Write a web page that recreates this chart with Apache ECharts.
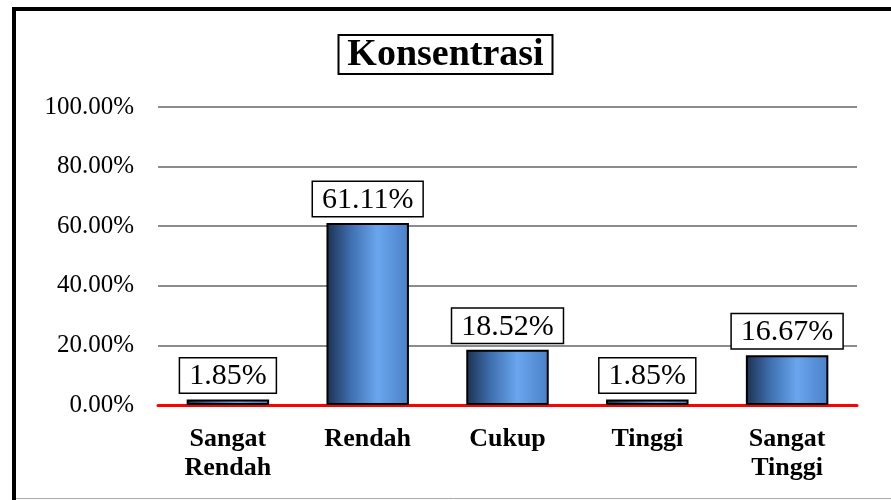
<!DOCTYPE html>
<html>
<head>
<meta charset="utf-8">
<script src="https://cdn.jsdelivr.net/npm/echarts@6/dist/echarts.min.js"></script>
<style>
  html, body { margin: 0; padding: 0; background: #fff; }
  #chart { width: 891px; height: 500px; }
</style>
</head>
<body>
<div id="chart"></div>
<script>
  // data
  const categories = ['Sangat\nRendah', 'Rendah', 'Cukup', 'Tinggi', 'Sangat\nTinggi']
  const values = [1.85, 61.11, 18.52, 1.85, 16.67]
  const titleText = 'Konsentrasi'

  const serif = '"Liberation Serif", "Times New Roman", serif'

  const chart = echarts.init(document.getElementById('chart'))
  chart.setOption({
    backgroundColor: '#fff',
    animation: false,
    title: {
      text: titleText,
      left: 'center',
      top: 35,
      padding: [1, 9, 0, 9],
      borderColor: '#000',
      borderWidth: 2,
      textStyle: {
        fontFamily: serif,
        fontWeight: 'bold',
        fontSize: 38,
        color: '#000'
      }
    },
    graphic: [
      // frame: heavy left/top, light bottom
      { type: 'line', shape: { x1: 14, y1: 7, x2: 14, y2: 500 }, style: { stroke: '#000', lineWidth: 4 } },
      { type: 'line', shape: { x1: 12, y1: 9, x2: 891, y2: 9 }, style: { stroke: '#000', lineWidth: 4 } },
      { type: 'line', shape: { x1: 16, y1: 498.5, x2: 891, y2: 498.5 }, style: { stroke: '#aaa', lineWidth: 1 } }
    ],
    grid: {
      left: 158,
      right: 34,
      top: 107,
      bottom: 95,
      containLabel: false
    },
    xAxis: {
      type: 'category',
      data: categories,
      axisTick: { show: false },
      axisLine: { lineStyle: { color: '#ff0000', width: 3 } },
      axisLabel: {
        margin: 20,
        fontFamily: serif,
        fontWeight: 'bold',
        fontSize: 26,
        lineHeight: 29,
        color: '#000'
      }
    },
    yAxis: {
      type: 'value',
      min: 0,
      max: 100,
      interval: 20,
      axisLine: { show: false },
      axisTick: { show: false },
      splitLine: { lineStyle: { color: '#8c8c8c', width: 2 } },
      axisLabel: {
        margin: 24,
        fontFamily: serif,
        fontSize: 25,
        color: '#000',
        formatter: v => v.toFixed(2) + '%'
      }
    },
    series: [{
      type: 'bar',
      data: values,
      barWidth: '59%',
      itemStyle: {
        borderColor: '#000',
        borderWidth: 2,
        color: new echarts.graphic.LinearGradient(0, 0, 1, 0, [
          { offset: 0, color: '#1c3150' },
          { offset: 0.3, color: '#3f70b0' },
          { offset: 0.62, color: '#6aa6ee' },
          { offset: 1, color: '#4a80c6' }
        ])
      },
      label: {
        show: true,
        position: 'top',
        distance: 7,
        formatter: p => p.value.toFixed(2) + '%',
        fontFamily: serif,
        fontSize: 30,
        color: '#000',
        backgroundColor: '#fff',
        borderColor: '#000',
        borderWidth: 1.5,
        padding: [3, 9, 1, 9]
      },
      z: 3
    }]
  })
</script>
</body>
</html>
